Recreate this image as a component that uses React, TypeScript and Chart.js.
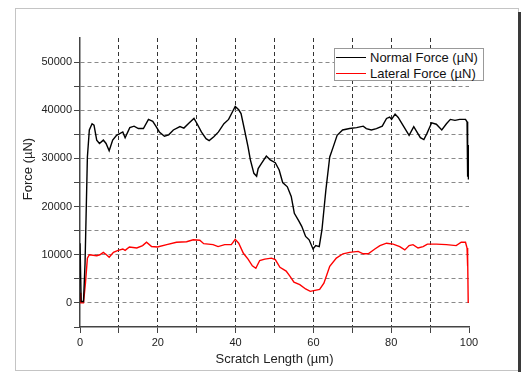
import React, { useEffect, useRef } from "react";
import { Chart, registerables } from "chart.js";

Chart.register(...registerables);

const seriesNames = ["Normal Force (µN)", "Lateral Force (µN)"];
const seriesColors = ["#000000", "#ff0000"];
const xTitle = "Scratch Length (µm)";
const yTitle = "Force (µN)";

const xMin = 0;
const xMax = 100;
const xStep = 10;
const xLabelEvery = 20;
const yMin = -5000;
const yMax = 55000;
const yStep = 5000;
const yLabelEvery = 10000;

const normalX = [0, 0.3, 0.9, 1.3, 1.9, 2.4, 3.1, 3.6, 4.3, 5.0, 6.0, 6.7, 7.5, 8.4, 9.4, 11.0, 11.6, 12.8, 13.9, 15.0, 16.3, 17.6, 18.7, 19.5, 20.4, 21.7, 22.8, 24.0, 25.7, 26.7, 28.1, 29.3, 30.1, 31.2, 32.4, 33.2, 34.4, 35.6, 37.0, 38.2, 39.2, 39.9, 40.8, 41.4, 42.3, 43.2, 43.8, 44.7, 45.4, 45.8, 46.7, 47.9, 48.9, 50.2, 51.2, 52.1, 53.3, 54.3, 55.1, 56.2, 57.0, 58.0, 58.9, 59.9, 60.6, 61.5, 62.2, 63.2, 64.2, 65.1, 66.1, 67.5, 69.3, 71.1, 72.8, 73.6, 74.9, 76.2, 77.7, 78.8, 79.6, 80.1, 81.0, 81.8, 83.0, 84.6, 85.8, 86.6, 87.5, 88.4, 89.2, 90.4, 91.6, 93.0, 94.2, 95.2, 96.4, 97.6, 99.1, 99.5, 99.65, 99.75, 99.85];
const normalY = [12400, 300, 300, 8300, 30300, 35900, 37200, 36900, 33800, 33100, 33800, 33100, 31600, 33800, 34800, 35500, 34300, 36400, 36700, 36200, 36200, 38100, 37700, 36700, 35500, 34600, 34900, 35900, 36600, 36300, 37400, 38300, 37200, 35500, 34100, 33700, 34500, 35500, 37200, 38100, 39700, 40800, 40100, 39300, 35900, 32400, 29700, 26900, 26300, 27900, 29000, 30500, 29700, 29100, 27600, 25000, 24100, 22100, 18600, 17100, 15900, 13800, 13100, 11200, 11900, 11700, 15200, 23400, 30300, 32400, 34800, 35900, 36200, 36400, 36700, 36200, 35900, 36200, 36700, 38300, 38600, 38100, 39200, 38500, 36900, 34800, 36600, 35500, 34300, 33900, 35200, 37400, 37100, 35900, 37200, 38100, 37900, 38100, 38100, 37600, 26200, 32800, 25600];

const lateralX = [0, 0.2, 0.9, 1.4, 1.9, 2.4, 4.3, 5.1, 6.0, 6.8, 7.5, 8.6, 9.8, 11.0, 11.6, 12.7, 14.6, 16.1, 17.1, 18.4, 19.9, 22.3, 24.8, 27.4, 29.1, 30.8, 31.8, 34.2, 35.5, 37.2, 38.9, 39.9, 40.8, 42.0, 43.2, 44.3, 45.2, 46.2, 47.5, 49.2, 50.2, 51.4, 53.0, 54.0, 55.0, 56.5, 58.0, 59.2, 60.4, 61.6, 62.7, 64.2, 65.9, 67.6, 69.3, 71.5, 72.8, 74.1, 75.8, 77.1, 78.8, 80.5, 82.2, 83.5, 84.6, 85.6, 86.9, 88.2, 89.3, 91.6, 94.2, 96.7, 98.0, 99.1, 99.5, 99.6, 99.7, 99.8];
const lateralY = [2100, 0, 0, 4100, 9300, 10000, 9800, 10000, 10500, 10000, 9500, 10500, 10900, 11200, 10900, 11600, 11400, 11900, 12600, 11700, 11600, 12100, 12600, 12700, 13100, 13000, 12300, 12100, 11700, 12100, 12100, 13200, 12400, 10300, 9100, 7700, 7200, 8800, 9100, 9300, 9000, 7400, 6600, 5500, 4300, 3800, 2900, 2400, 2600, 2800, 4100, 7600, 9300, 10200, 10500, 10700, 10200, 10200, 11200, 11900, 12400, 12200, 11700, 11000, 11900, 12100, 11400, 11700, 12200, 12200, 12100, 11900, 12600, 12600, 11400, 7600, 9600, 0];

const FONT = '"Liberation Sans", Arial, Helvetica, sans-serif';

const toPoints = (xs: number[], ys: number[]) => xs.map((x, i) => ({ x, y: ys[i] }));

const yTitlePlugin = {
  id: "yTitleCustom",
  afterDraw(chart: any) {
    const ctx = chart.ctx;
    ctx.save();
    ctx.translate(28, 169);
    ctx.rotate(-Math.PI / 2);
    ctx.font = `13px ${FONT}`;
    ctx.fillStyle = "#222";
    ctx.textAlign = "center";
    ctx.textBaseline = "middle";
    ctx.fillText(yTitle, 0, 0);
    ctx.restore();
  },
};

export default function App() {
  const canvasRef = useRef<HTMLCanvasElement | null>(null);

  useEffect(() => {
    if (!canvasRef.current) return;
    const chart = new Chart(canvasRef.current, {
      type: "line",
      data: {
        datasets: [
          {
            label: seriesNames[0],
            data: toPoints(normalX, normalY),
            borderColor: seriesColors[0],
            backgroundColor: seriesColors[0],
            borderWidth: 1.4,
            pointRadius: 0,
            tension: 0,
          },
          {
            label: seriesNames[1],
            data: toPoints(lateralX, lateralY),
            borderColor: seriesColors[1],
            backgroundColor: seriesColors[1],
            borderWidth: 1.4,
            pointRadius: 0,
            tension: 0,
          },
        ],
      },
      options: {
        animation: false,
        responsive: false,
        devicePixelRatio: 1,
        layout: { padding: { left: 0, right: 52, top: 38, bottom: 0 } },
        plugins: {
          legend: { display: false },
          tooltip: { enabled: false },
        },
        scales: {
          x: {
            type: "linear",
            min: xMin,
            max: xMax,
            afterFit: (s: any) => {
              s.height = 45;
            },
            ticks: {
              stepSize: xStep,
              autoSkip: false,
              maxRotation: 0,
              padding: 3,
              color: "#222",
              font: { family: FONT, size: 11 },
              callback: (v: any) => (Number(v) % xLabelEvery === 0 ? String(v) : ""),
            },
            grid: {
              color: (c: any) => {
                const v = c.tick ? c.tick.value : null;
                return v === xMin || v === xMax ? "rgba(0,0,0,0)" : "#333";
              },
              lineWidth: 1,
              tickColor: "#444",
              tickLength: 6,
              tickWidth: 1,
            },
            border: { display: true, color: "#444", width: 1.5, dash: [4, 3] },
            title: {
              display: true,
              text: xTitle,
              color: "#222",
              font: { family: FONT, size: 13 },
              padding: { top: 0, bottom: 5 },
            },
          },
          y: {
            type: "linear",
            min: yMin,
            max: yMax,
            afterFit: (s: any) => {
              s.width = 80;
            },
            ticks: {
              stepSize: yStep,
              autoSkip: false,
              padding: 2,
              color: "#222",
              font: { family: FONT, size: 11 },
              callback: (v: any) => (Number(v) % yLabelEvery === 0 ? String(v) : ""),
            },
            grid: {
              color: (c: any) => {
                const v = c.tick ? c.tick.value : null;
                return v === yMin || v === yMax ? "rgba(0,0,0,0)" : "#8a8a8a";
              },
              lineWidth: 1,
              tickColor: (c: any) => {
                const v = c.tick ? c.tick.value : null;
                return v === yMax ? "rgba(0,0,0,0)" : "#444";
              },
              tickLength: 6,
              tickWidth: 1,
            },
            border: { display: true, color: "#444", width: 1.5, dash: [4, 3] },
            title: { display: false },
          },
        },
      },
      plugins: [yTitlePlugin],
    } as any);
    return () => chart.destroy();
  }, []);

  return (
    <div
      style={{
        position: "absolute",
        left: 0,
        top: 0,
        width: 521,
        height: 372,
        background: "#fff",
        overflow: "hidden",
        fontFamily: FONT,
      }}
    >
      <div
        style={{
          position: "absolute",
          left: 15,
          top: 8,
          width: 502,
          height: 361,
          border: "1px solid #c4c4c4",
        }}
      />
      <div
        style={{
          position: "absolute",
          left: 518,
          top: 12,
          width: 3,
          height: 360,
          background: "#3a3a3a",
        }}
      />
      <canvas
        ref={canvasRef}
        width={521}
        height={372}
        style={{ position: "absolute", left: 0, top: 0, width: 521, height: 372 }}
      />
      <div
        style={{
          position: "absolute",
          left: 334,
          top: 48,
          width: 148,
          height: 31,
          border: "1px solid #999",
          background: "#fff",
        }}
      >
        {seriesNames.map((name, i) => (
          <div
            key={name}
            style={{
              position: "absolute",
              left: 1,
              top: 1 + i * 16,
              height: 15,
              display: "flex",
              alignItems: "center",
              whiteSpace: "nowrap",
            }}
          >
            <div style={{ width: 30, height: 1.5, background: seriesColors[i], marginRight: 4 }} />
            <span style={{ fontSize: 13, color: "#111", lineHeight: "15px" }}>{name}</span>
          </div>
        ))}
      </div>
    </div>
  );
}
